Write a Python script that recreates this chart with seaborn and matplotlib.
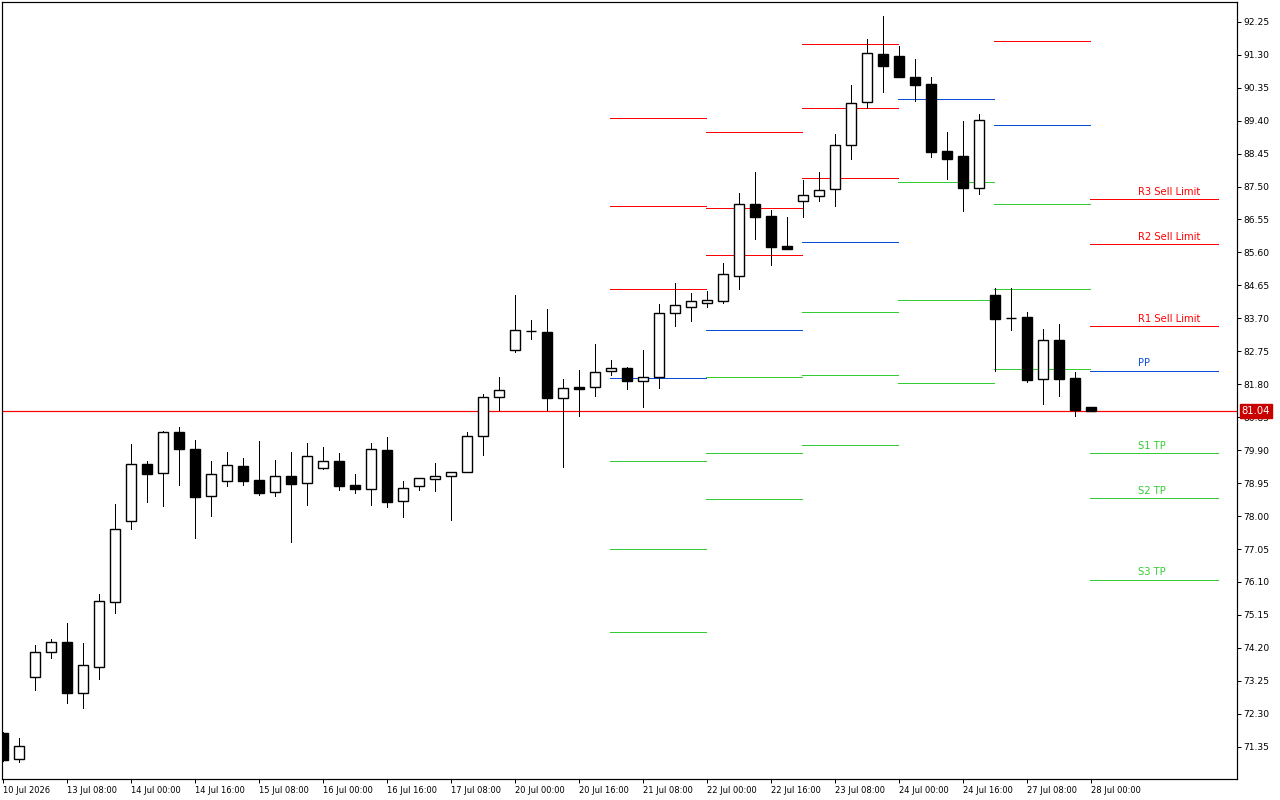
import numpy as np
import pandas as pd
import matplotlib
matplotlib.use("Agg")
import matplotlib.pyplot as plt
from matplotlib import font_manager
import seaborn as sns

# 4h candles, one per bar index
opens = [71.75, 71.00, 73.36, 74.08, 74.37, 72.90, 73.65, 75.52, 77.86, 79.50,
         79.24, 80.42, 79.93, 78.58, 79.01, 79.44, 79.04, 78.69, 79.15, 78.95,
         79.38, 79.59, 78.89, 78.78, 79.90, 78.43, 78.87, 79.07, 79.15, 79.27,
         80.31, 81.43, 82.79, 83.33, 83.30, 81.40, 81.72, 81.72, 82.18, 82.27,
         81.89, 82.01, 83.85, 84.03, 84.14, 84.20, 84.92, 87.00, 86.65, 85.78,
         87.08, 87.23, 87.43, 88.70, 89.94, 91.32, 91.26, 90.66, 90.45, 88.52,
         88.38, 87.46, 84.37, 83.71, 83.74, 81.95, 83.07, 81.98, 81.14]
highs = [71.78, 71.60, 74.28, 74.45, 74.92, 74.34, 75.75, 78.35, 80.08, 79.59,
         80.44, 80.57, 80.19, 79.59, 79.85, 79.67, 80.16, 79.61, 79.85, 80.10,
         79.99, 79.82, 79.21, 80.10, 80.28, 79.01, 79.11, 79.53, 79.28, 80.42,
         81.52, 82.01, 84.37, 83.65, 83.97, 81.95, 82.21, 82.96, 82.50, 82.29,
         82.79, 84.11, 84.72, 84.43, 84.49, 85.29, 87.31, 87.92, 86.82, 86.62,
         87.69, 87.92, 89.01, 90.43, 91.75, 92.41, 91.55, 91.17, 90.66, 89.07,
         89.39, 89.59, 84.57, 84.57, 83.88, 83.39, 83.54, 82.15, 81.14]
lows = [70.95, 70.91, 72.98, 73.91, 72.61, 72.47, 73.30, 75.20, 77.63, 78.40,
        78.29, 78.89, 77.37, 78.00, 78.87, 78.89, 78.61, 78.58, 77.25, 78.32,
        79.36, 78.75, 78.66, 78.32, 78.26, 77.97, 78.75, 78.72, 77.89, 79.26,
        79.76, 81.06, 82.73, 83.10, 81.06, 79.41, 80.88, 81.46, 82.07, 81.66,
        81.14, 81.69, 83.48, 83.62, 84.03, 84.14, 84.54, 85.99, 85.24, 85.70,
        86.62, 87.08, 86.94, 88.29, 89.76, 90.22, 90.66, 89.96, 88.35, 87.72,
        86.79, 87.28, 82.18, 83.36, 81.86, 81.23, 81.46, 80.88, 81.04]
closes = [70.97, 71.37, 74.08, 74.37, 72.90, 73.71, 75.55, 77.63, 79.50, 79.21,
          80.42, 79.93, 78.55, 79.21, 79.47, 79.01, 78.66, 79.15, 78.92, 79.73,
          79.59, 78.87, 78.78, 79.93, 78.40, 78.81, 79.10, 79.15, 79.27, 80.31,
          81.43, 81.63, 83.36, 83.33, 81.40, 81.69, 81.66, 82.15, 82.27, 81.89,
          82.01, 83.85, 84.08, 84.20, 84.23, 84.98, 87.00, 86.62, 85.76, 85.70,
          87.25, 87.40, 88.70, 89.91, 91.35, 90.97, 90.66, 90.43, 88.49, 88.29,
          87.46, 89.42, 83.68, 83.71, 81.92, 83.07, 81.95, 81.05, 81.04]

tick_labels = ['10 Jul 2026', '13 Jul 08:00', '14 Jul 00:00', '14 Jul 16:00',
               '15 Jul 08:00', '16 Jul 00:00', '16 Jul 16:00', '17 Jul 08:00',
               '20 Jul 00:00', '20 Jul 16:00', '21 Jul 08:00', '22 Jul 00:00',
               '22 Jul 16:00', '23 Jul 08:00', '24 Jul 00:00', '24 Jul 16:00',
               '27 Jul 08:00', '28 Jul 00:00']
price_ticks = [71.35, 72.30, 73.25, 74.20, 75.15, 76.10, 77.05, 78.00, 78.95,
               79.90, 80.85, 81.80, 82.75, 83.70, 84.65, 85.60, 86.55, 87.50,
               88.45, 89.40, 90.35, 91.30, 92.25]

# daily pivot segments (bar index where each day starts / ends)
seg_start = [38, 44, 50, 56, 62, 68]
seg_end = [44, 50, 56, 62, 68, 76]
nan = np.nan
r3 = [89.47, 89.06, 91.61, nan, nan, 87.13]
r2 = [86.94, 86.87, 89.75, nan, nan, 85.83]
r1 = [84.54, 85.52, 87.74, nan, 91.71, 83.47]
pp = [81.98, 83.35, 85.89, 90.01, 89.26, 82.18]
s1 = [79.59, 82.00, 83.87, 87.62, 86.99, 79.81]
s2 = [77.05, 79.81, 82.06, 84.24, 84.54, 78.51]
s3 = [74.66, 78.48, 80.05, 81.83, 82.23, 76.15]
level_names = ['R3 Sell Limit', 'R2 Sell Limit', 'R1 Sell Limit', 'PP',
               'S1 TP', 'S2 TP', 'S3 TP']
last_price = 81.04

RED = '#ff0000'
BLUE = '#0a4fd8'
GREEN = '#33cc33'
kind_colors = {'R': RED, 'P': BLUE, 'S': GREEN}


def main():
    sns.set_style('white')
    avail = {f.name for f in font_manager.fontManager.ttflist}
    if 'Liberation Sans Narrow' in avail:
        fam, fs_x, fs_y, fs_lab = 'Liberation Sans Narrow', 7.2, 7.4, 8.6
    else:
        fam, fs_x, fs_y, fs_lab = 'DejaVu Sans', 6.0, 6.6, 7.2
    plt.rcParams['font.family'] = [fam, 'DejaVu Sans']

    px = 0.72  # one pixel in points at dpi 100
    fig = plt.figure(figsize=(12.8, 8), dpi=100)
    ax = fig.add_axes([2 / 1280, 21 / 800, 1235 / 1280, 777 / 800])

    candles = pd.DataFrame({'bar': np.arange(len(opens)), 'open': opens,
                            'high': highs, 'low': lows, 'close': closes})
    candles['bull'] = candles['close'] >= candles['open']
    body_lo = np.minimum(candles['open'], candles['close'])
    body_h = (candles['close'] - candles['open']).abs()

    # pivot lines
    levels = [r3, r2, r1, pp, s1, s2, s3]
    rows = []
    for name, vals in zip(level_names, levels):
        for j in range(len(seg_start)):
            if np.isnan(vals[j]):
                continue
            for xx in (seg_start[j], seg_end[j]):
                rows.append({'seg': f'{name}_{j}', 'kind': name[0],
                             'x': xx - 0.06, 'price': vals[j]})
    piv = pd.DataFrame(rows)
    sns.lineplot(data=piv, x='x', y='price', hue='kind', units='seg',
                 estimator=None, palette=kind_colors, legend=False,
                 linewidth=px, sort=False, ax=ax, zorder=1,
                 antialiased=False)

    # current price line
    ax.plot([-1, 78], [last_price, last_price], color='#ff0000',
            linewidth=1.2 * px, zorder=1.5)

    ax.vlines(candles['bar'], candles['low'], candles['high'],
              color='black', linewidth=px, zorder=2, antialiased=False)
    ax.bar(candles['bar'], body_h, bottom=body_lo, width=0.625,
           color=np.where(candles['bull'], 'white', 'black'),
           edgecolor='black', linewidth=1.4 * px, zorder=3)

    # labels of today's levels
    for name, vals in zip(level_names, levels):
        ax.annotate(name, xy=(70.95, vals[-1]), xytext=(0, 2),
                    textcoords='offset points', ha='left', va='bottom',
                    color=kind_colors[name[0]], fontsize=fs_lab)

    ax.set_xlim(-0.0625, 77.125)
    ax.set_ylim(70.42, 92.82)

    ax.yaxis.tick_right()
    ax.set_yticks(price_ticks)
    ax.set_yticklabels([f'{v:.2f}' for v in price_ticks], fontsize=fs_y)
    ax.set_xticks(range(0, 4 * len(tick_labels), 4))
    ax.set_xticklabels(tick_labels, fontsize=fs_x, ha='left')
    ax.tick_params(axis='y', direction='out', length=3, width=px, pad=1.5,
                   colors='black', right=True, left=False)
    ax.tick_params(axis='x', direction='out', length=3, width=px, pad=2,
                   colors='black', bottom=True)
    for lab in ax.get_xticklabels():
        lab.set_horizontalalignment('left')
    ax.set_xlabel('')
    ax.set_ylabel('')
    for sp in ax.spines.values():
        sp.set_visible(True)
        sp.set_color('black')
        sp.set_linewidth(1.2 * px)

    # current price tag on the price scale
    ax.annotate(f'{last_price:.2f}', xy=(1.0, last_price),
                xycoords=('axes fraction', 'data'), xytext=(3.5, 0),
                textcoords='offset points', ha='left', va='center',
                color='white', fontsize=fs_y + 0.6, zorder=10,
                annotation_clip=False,
                bbox=dict(boxstyle='square,pad=0.2', fc='#c80000',
                          ec='#c80000'))

    fig.savefig('out.png', dpi=100, facecolor='white')


if __name__ == "__main__":
    main()
